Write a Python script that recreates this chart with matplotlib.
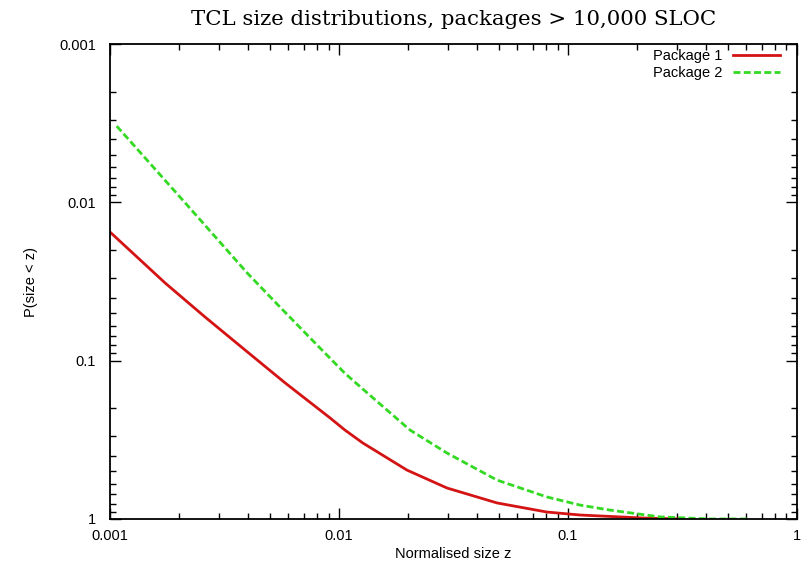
import matplotlib
matplotlib.use("Agg")
import matplotlib.pyplot as plt
from matplotlib.ticker import FixedLocator, FixedFormatter, LogLocator, NullFormatter

# values
pkg1_z = [0.001, 0.00174, 0.00260, 0.00389, 0.00581, 0.00914, 0.0106, 0.0127,
          0.0198, 0.0296, 0.0490, 0.0809, 0.113, 0.213, 0.308]
pkg1_p = [0.0154, 0.0323, 0.0530, 0.0857, 0.138, 0.230, 0.274, 0.331,
          0.491, 0.637, 0.792, 0.904, 0.944, 0.986, 1.0]

pkg2_z = [0.00107, 0.00202, 0.00288, 0.00397, 0.00552, 0.00826, 0.0106, 0.0127,
          0.0204, 0.0296, 0.0490, 0.0809, 0.113, 0.152, 0.252, 0.417, 0.605]
pkg2_p = [0.00330, 0.00925, 0.0165, 0.0279, 0.0458, 0.0832, 0.120, 0.151,
          0.274, 0.383, 0.568, 0.726, 0.817, 0.878, 0.970, 1.0, 1.0]

tick_vals = [0.001, 0.01, 0.1, 1]
tick_labels = ["0.001", "0.01", "0.1", "1"]

plt.rcParams['font.family'] = ['Liberation Sans', 'DejaVu Sans']

fig = plt.figure(figsize=(8.03, 5.68), dpi=100)
ax = fig.add_axes([0.137, 0.0863, 0.8555, 0.8362])

ax.plot(pkg1_z, pkg1_p, color='#d41414', lw=2.0, label='Package 1')
ax.plot(pkg2_z, pkg2_p, color='#33d922', lw=2.0, dashes=(2.5, 1.2), label='Package 2')

ax.set_xscale('log')
ax.set_yscale('log')
ax.set_xlim(0.001, 1)
ax.set_ylim(1, 0.001)

for axis in (ax.xaxis, ax.yaxis):
    axis.set_major_locator(FixedLocator(tick_vals))
    axis.set_major_formatter(FixedFormatter(tick_labels))
    axis.set_minor_locator(LogLocator(base=10, subs=range(2, 10)))
    axis.set_minor_formatter(NullFormatter())

ax.tick_params(which='both', direction='in', top=True, right=True,
               labelsize=10.5, width=1.0)
ax.tick_params(which='major', length=8)
ax.tick_params(which='minor', length=4.5)
ax.tick_params(axis='x', which='major', pad=7)
ax.tick_params(axis='y', which='major', pad=10)
for s in ax.spines.values():
    s.set_linewidth(1.3)

ax.set_xlabel('Normalised size z', fontsize=10.5, labelpad=3)
ax.set_ylabel('P(size < z)', fontsize=10.5, labelpad=15)
ax.set_title('TCL size distributions, packages > 10,000 SLOC',
             fontsize=15.3, family='DejaVu Serif', pad=14)

ax.legend(loc='upper right', bbox_to_anchor=(0.975, 0.99), frameon=False,
          markerfirst=False, fontsize=10.5, handlelength=3.2, handletextpad=0.75,
          labelspacing=0.25, borderpad=0, borderaxespad=0)

fig.savefig('out.png', dpi=100)
